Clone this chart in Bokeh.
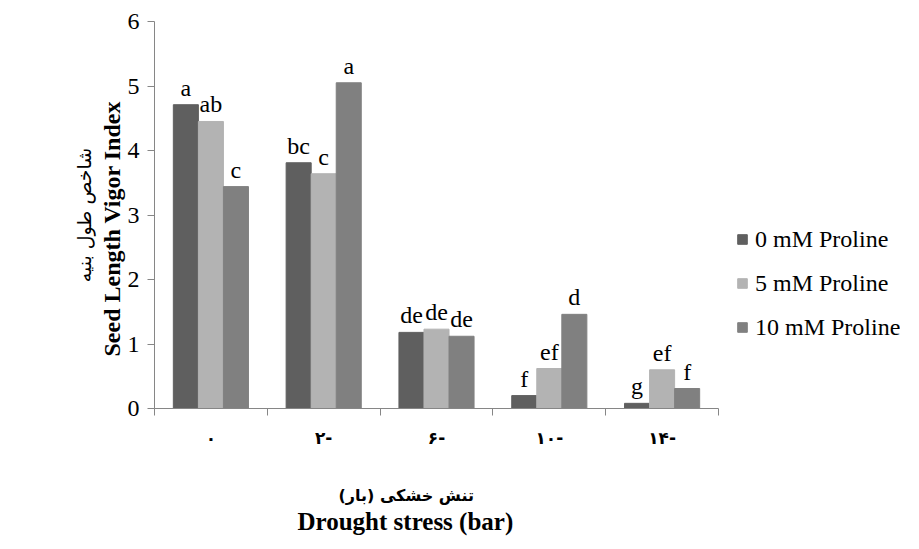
from bokeh.plotting import figure
from bokeh.models import (ColumnDataSource, FixedTicker, Legend, LegendItem, Title, Range1d)
from bokeh.core.properties import value
from bokeh.embed import file_html
from bokeh.resources import INLINE

# ---- data ----
drought_labels = ["۰", "۲-", "۶-", "۱۰-", "۱۴-"]
series_names = ["0 mM Proline", "5 mM Proline", "10 mM Proline"]
vals_0 = [4.71, 3.81, 1.18, 0.20, 0.08]
vals_5 = [4.45, 3.64, 1.23, 0.62, 0.60]
vals_10 = [3.44, 5.05, 1.12, 1.46, 0.31]
letters_0 = ["a", "bc", "de", "f", "g"]
letters_5 = ["ab", "c", "de", "ef", "ef"]
letters_10 = ["c", "a", "de", "d", "f"]
colors = ["#5f5f5f", "#b3b3b3", "#808080"]

SERIF = "Liberation Serif"
AXIS_COL = "#868686"

n = len(drought_labels)
centers = [i + 0.5 for i in range(n)]
bw = 0.222
offsets = [-bw, 0.0, bw]

W, H = 905, 543
BL, BR, BT, BB = 154, 5, 21, 135
frame_w = W - BL - BR
axis_px = 564  # pixel length of the category axis
x_end = n * frame_w / axis_px

p = figure(width=W, height=H, output_backend="svg", toolbar_location=None,
           x_range=Range1d(0, x_end), y_range=Range1d(0, 6),
           min_border_left=BL, min_border_right=BR, min_border_top=BT, min_border_bottom=BB)
p.outline_line_color = None
p.xgrid.visible = False
p.ygrid.visible = False

renderers = []
for vals, lets, col, off in zip([vals_0, vals_5, vals_10], [letters_0, letters_5, letters_10], colors, offsets):
    src = ColumnDataSource(dict(x=[c + off for c in centers], top=vals, lab=lets))
    r = p.vbar(x="x", top="top", width=bw, source=src, fill_color=col, line_color=col)
    renderers.append(r)
    p.text(x="x", y="top", text="lab", source=src, text_align="center", text_baseline="alphabetic",
           y_offset=-17, text_font=value(SERIF), text_font_size="24px", text_color="black")

# x axis: labels at category centers, tick marks at boundaries (minor ticks)
xa = p.xaxis[0]
xa.bounds = (0, n)
xa.ticker = FixedTicker(ticks=centers, minor_ticks=list(range(n + 1)))
xa.major_label_overrides = {c: lab for c, lab in zip(centers, drought_labels)}
xa.major_tick_line_color = None
xa.minor_tick_in = 0
xa.minor_tick_out = 7
xa.minor_tick_line_color = AXIS_COL
xa.axis_line_color = AXIS_COL
xa.major_label_text_font = "DejaVu Sans"
xa.major_label_text_font_style = "bold"
xa.major_label_text_font_size = "17px"
xa.major_label_text_color = "black"
xa.major_label_standoff = 12

ya = p.yaxis[0]
ya.ticker = FixedTicker(ticks=[0, 1, 2, 3, 4, 5, 6])
ya.axis_line_color = AXIS_COL
ya.major_tick_line_color = AXIS_COL
ya.major_tick_in = 0
ya.major_tick_out = 7
ya.minor_tick_line_color = None
ya.major_label_text_font = SERIF
ya.major_label_text_font_size = "24px"
ya.major_label_text_color = "black"
ya.major_label_standoff = 8

# y axis titles
t_en_y = Title(text="Seed Length Vigor Index", align="left", offset=52, standoff=0,
               text_font=SERIF, text_font_size="24px", text_font_style="bold", text_color="black")
t_fa_y = Title(text="شاخص طول بنیه", align="center", standoff=4,
               text_font="DejaVu Sans", text_font_size="19px", text_font_style="normal", text_color="black")
p.add_layout(t_en_y, "left")
p.add_layout(t_fa_y, "left")

# x axis titles (spacer first)
t_sp = Title(text=" ", text_font_size="1px", standoff=29)
t_fa_x = Title(text="تنش خشکی (بار)", align="left", offset=184, standoff=2,
               text_font="DejaVu Sans", text_font_size="16px", text_font_style="bold", text_color="black")
t_en_x = Title(text="Drought stress (bar)", align="left", offset=143, standoff=0,
               text_font=SERIF, text_font_size="25px", text_font_style="bold", text_color="black")
p.add_layout(t_sp, "below")
p.add_layout(t_fa_x, "below")
p.add_layout(t_en_x, "below")

legend = Legend(items=[LegendItem(label=nm, renderers=[r]) for nm, r in zip(series_names, renderers)],
                location=(582, 66), orientation="vertical",
                glyph_width=12, glyph_height=12, label_height=30, spacing=14,
                label_standoff=7, padding=0, margin=0,
                border_line_color=None, background_fill_alpha=0,
                label_text_font="serif", label_text_font_style="normal",
                label_text_font_size="24px", label_text_color="black")
p.add_layout(legend, "center")

open("out.html", "w").write(file_html(p, INLINE))
